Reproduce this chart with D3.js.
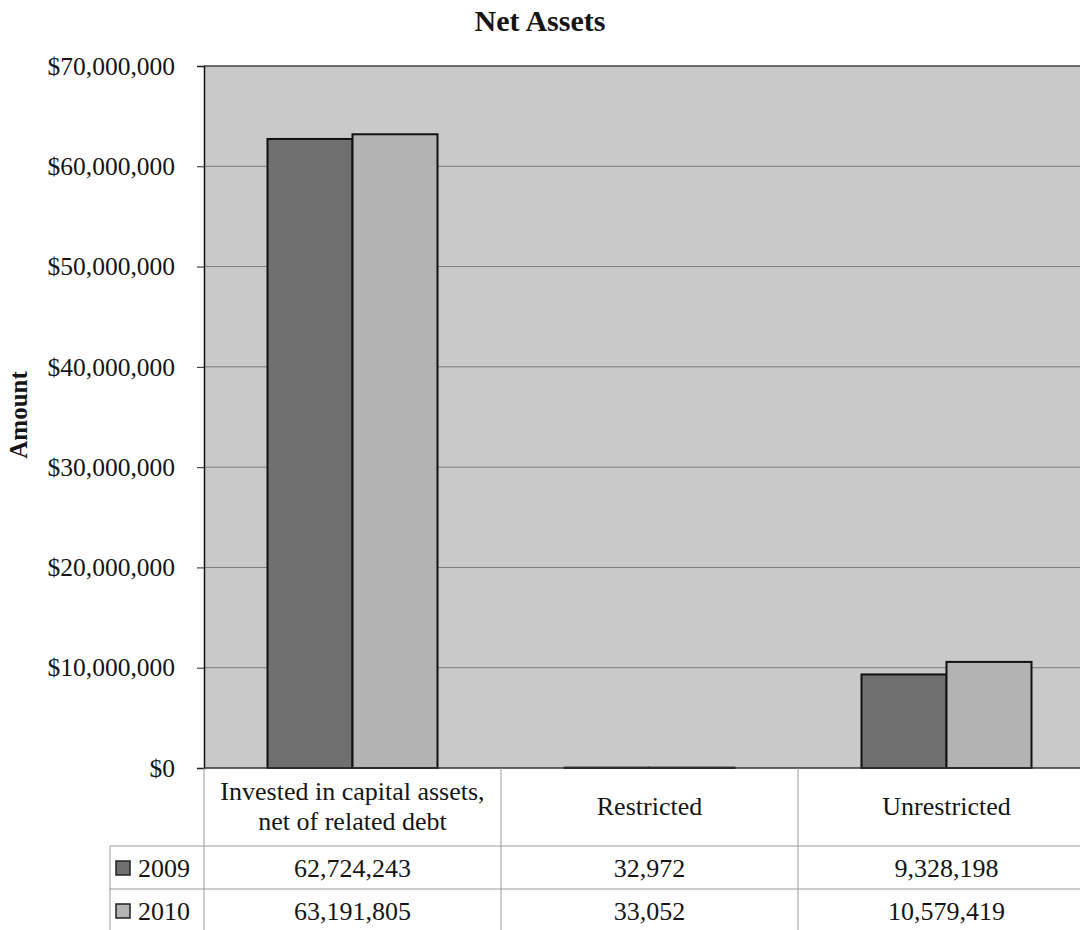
<!DOCTYPE html>
<html><head><meta charset="utf-8">
<script src="https://cdn.jsdelivr.net/npm/d3@7"></script>
<style>
body{margin:0;background:#fff}
svg{display:block}
text{font-family:"Liberation Serif","Times New Roman",serif;fill:#151515}
</style>
</head><body>
<svg id="c" width="1080" height="930"></svg>
<script>
// ---- data ----
const categories = ["Invested in capital assets, net of related debt", "Restricted", "Unrestricted"];
const categoryLines = [["Invested in capital assets,", "net of related debt"], ["Restricted"], ["Unrestricted"]];
const seriesNames = ["2009", "2010"];
const values2009 = [62724243, 32972, 9328198];
const values2010 = [63191805, 33052, 10579419];
const yTicks = [0, 10000000, 20000000, 30000000, 40000000, 50000000, 60000000, 70000000];
const seriesColors = ["#6f6f6f", "#b3b3b3"];
const titleText = "Net Assets";
const yLabel = "Amount";

const series = [values2009, values2010];

// ---- layout ----
const svg = d3.select("#c");
const L = 204, T = 66, B = 768, colW = 297;
const R = L + colW * categories.length;

const x0 = d3.scaleBand().domain(d3.range(categories.length)).range([L, R]).padding(0);
const x1 = d3.scaleBand().domain(seriesNames).range([0, x0.bandwidth()]).paddingInner(0).paddingOuter(0.747);
const y = d3.scaleLinear().domain([0, 70000000]).range([B, T]);

// plot background
svg.append("rect").attr("x", L).attr("y", T).attr("width", R - L).attr("height", B - T).attr("fill", "#c9c9c9");

// gridlines
svg.append("g").selectAll("line").data(yTicks.filter(d => d > 0 && d < 70000000)).join("line")
  .attr("x1", L).attr("x2", R).attr("y1", d => y(d)).attr("y2", d => y(d))
  .attr("stroke", "#7c7c7c").attr("stroke-width", 1);
// top frame
svg.append("line").attr("x1", L).attr("x2", R).attr("y1", y(70000000)).attr("y2", y(70000000))
  .attr("stroke", "#444").attr("stroke-width", 1.5);

// bars
const gb = svg.append("g");
series.forEach((vals, si) => {
  gb.selectAll(null).data(vals).join("rect")
    .attr("x", (d, i) => x0(i) + x1(seriesNames[si]))
    .attr("y", d => y(d))
    .attr("width", x1.bandwidth())
    .attr("height", d => y(0) - y(d))
    .attr("fill", seriesColors[si])
    .attr("stroke", "#111").attr("stroke-width", 2);
});

// y axis
const yAxis = d3.axisLeft(y).tickValues(yTicks).tickFormat(d3.format("$,")).tickSize(7).tickPadding(22);
const ga = svg.append("g").attr("transform", `translate(${L},0)`).call(yAxis);
ga.select(".domain").attr("stroke", "#111").attr("stroke-width", 1.5);
ga.selectAll(".tick line").attr("stroke", "#222");
ga.selectAll(".tick text").attr("font-size", 25.5).attr("fill", "#151515")
  .attr("font-family", "'Liberation Serif','Times New Roman',serif");
// baseline
svg.append("line").attr("x1", L).attr("x2", R).attr("y1", B).attr("y2", B).attr("stroke", "#333").attr("stroke-width", 1.5);

// title
svg.append("text").attr("x", 540).attr("y", 31).attr("text-anchor", "middle")
  .attr("font-size", 30).attr("font-weight", "bold").text(titleText);
// y label
svg.append("text").attr("transform", "translate(27,415) rotate(-90)").attr("text-anchor", "middle")
  .attr("font-size", 25).attr("font-weight", "bold").text(yLabel);

// ---- data table ----
const rowTop = [846, 889], tabLeft = 110;
const gt = svg.append("g");
const gridC = "#9a9a9a";
[L, ...d3.range(1, categories.length + 1).map(i => x0(i - 1) + colW)].forEach(xv => {
  gt.append("line").attr("x1", xv).attr("x2", xv).attr("y1", B).attr("y2", 930).attr("stroke", gridC);
});
gt.append("line").attr("x1", tabLeft).attr("x2", tabLeft).attr("y1", rowTop[0]).attr("y2", 930).attr("stroke", gridC);
rowTop.forEach(ry => {
  gt.append("line").attr("x1", tabLeft).attr("x2", R).attr("y1", ry).attr("y2", ry).attr("stroke", gridC);
});
categoryLines.forEach((lines, i) => {
  const cx = x0(i) + colW / 2;
  const startY = lines.length === 1 ? 815 : 800;
  lines.forEach((ln, j) => {
    gt.append("text").attr("x", cx).attr("y", startY + j * 30).attr("text-anchor", "middle")
      .attr("font-size", 26).text(ln);
  });
});
const fmt = d3.format(",");
series.forEach((vals, si) => {
  const by = rowTop[si] + 31;
  gt.append("rect").attr("x", 116).attr("y", rowTop[si] + 15).attr("width", 14).attr("height", 14)
    .attr("fill", seriesColors[si]).attr("stroke", "#222").attr("stroke-width", 1.5);
  gt.append("text").attr("x", 138).attr("y", by).attr("font-size", 26).text(seriesNames[si]);
  vals.forEach((v, i) => {
    gt.append("text").attr("x", x0(i) + colW / 2).attr("y", by).attr("text-anchor", "middle")
      .attr("font-size", 26).text(fmt(v));
  });
});
</script>
</body></html>
